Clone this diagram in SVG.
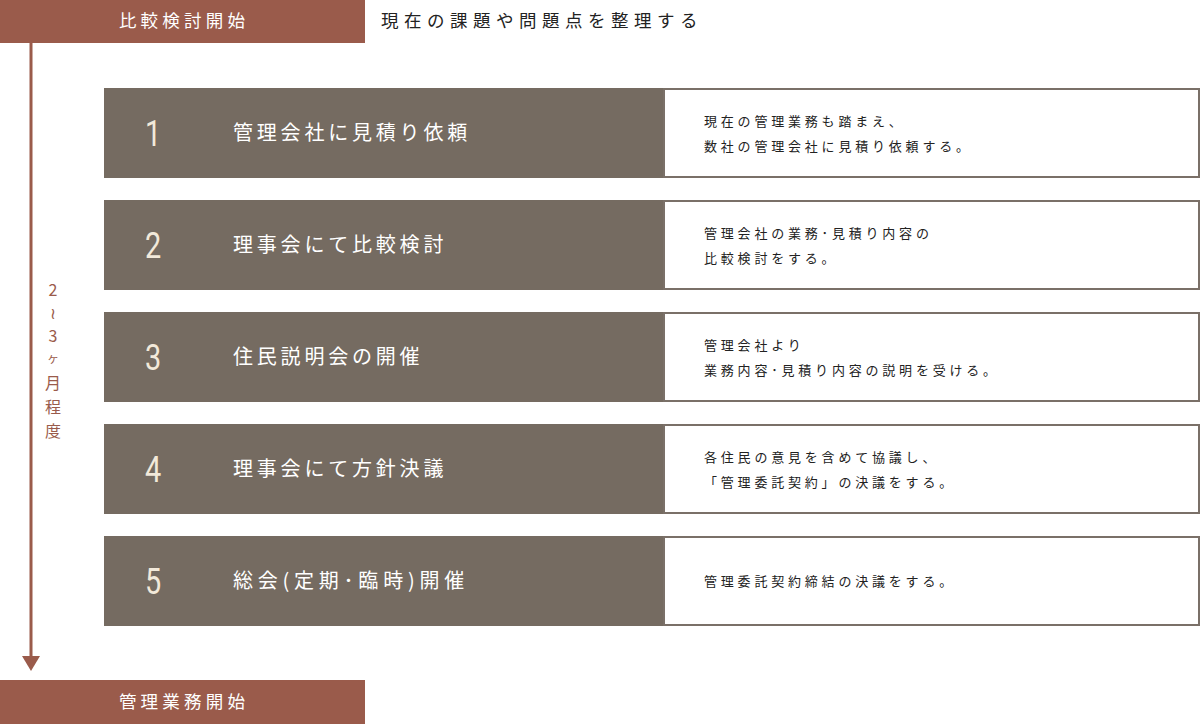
<svg xmlns="http://www.w3.org/2000/svg" width="1200" height="724" viewBox="0 0 1200 724">
<style>
.bar{fill:#9a5b4b}
.bartxt{font-family:"Noto Sans CJK JP","Noto Sans",sans-serif;font-size:17.5px;fill:#ffffff;letter-spacing:4.2px;text-anchor:middle}
.lead{font-family:"Noto Sans CJK JP","Noto Sans",sans-serif;font-size:17.5px;fill:#222222;letter-spacing:5.5px}
.step{fill:#756b61}
.desc{fill:#ffffff;stroke:#7a7068;stroke-width:2}
.num{font-family:Roboto,"Noto Sans",sans-serif;font-weight:400;font-size:37px;fill:#f2e9da;text-anchor:middle}
.title{font-family:"Noto Sans CJK JP","Noto Sans",sans-serif;font-size:20px;fill:#ffffff;letter-spacing:3.8px}
.note{font-family:"Noto Sans CJK JP","Noto Sans",sans-serif;font-size:13px;fill:#222222;letter-spacing:3.8px}
.vert{font-family:"Noto Sans CJK JP","Noto Sans",sans-serif;font-size:16px;fill:#9a5b4b;text-anchor:middle}
</style>
<rect width="1200" height="724" fill="#ffffff"/>
<g id="start">
<rect class="bar" x="0" y="0" width="365" height="43"/>
<text class="bartxt" x="184" y="27">比較検討開始</text>
</g>
<g id="lead">
<text class="lead" x="381" y="27">現在の課題や問題点を整理する</text>
</g>
<g id="connectors">
<line x1="31" y1="43" x2="31" y2="657" stroke="#9a5b4b" stroke-width="3"/>
<path d="M22,656 L40,656 L31,671 Z" fill="#9a5b4b"/>
</g>
<g id="duration">
<text class="vert" x="53" y="296">2</text>
<text class="vert" x="53" y="319">≀</text>
<text class="vert" x="53" y="342">3</text>
<text class="vert" x="53" y="363" style="font-size:12px">ヶ</text>
<text class="vert" x="53" y="389">月</text>
<text class="vert" x="53" y="413">程</text>
<text class="vert" x="53" y="437">度</text>
</g>
<g id="step1">
<rect class="step" x="104" y="88" width="559" height="90"/>
<rect class="desc" x="664" y="89" width="535" height="88"/>
<text class="num" transform="translate(153,146) scale(0.78,1)">1</text>
<text class="title" x="233" y="140">管理会社に見積り依頼</text>
<text class="note" x="704" y="126">現在の管理業務も踏まえ、</text>
<text class="note" x="704" y="151">数社の管理会社に見積り依頼する。</text>
</g>
<g id="step2">
<rect class="step" x="104" y="200" width="559" height="90"/>
<rect class="desc" x="664" y="201" width="535" height="88"/>
<text class="num" transform="translate(153,258) scale(0.78,1)">2</text>
<text class="title" x="233" y="252">理事会にて比較検討</text>
<text class="note" x="704" y="238">管理会社の業務･見積り内容の</text>
<text class="note" x="704" y="263">比較検討をする。</text>
</g>
<g id="step3">
<rect class="step" x="104" y="312" width="559" height="90"/>
<rect class="desc" x="664" y="313" width="535" height="88"/>
<text class="num" transform="translate(153,370) scale(0.78,1)">3</text>
<text class="title" x="233" y="364">住民説明会の開催</text>
<text class="note" x="704" y="350">管理会社より</text>
<text class="note" x="704" y="375">業務内容･見積り内容の説明を受ける。</text>
</g>
<g id="step4">
<rect class="step" x="104" y="424" width="559" height="90"/>
<rect class="desc" x="664" y="425" width="535" height="88"/>
<text class="num" transform="translate(153,482) scale(0.78,1)">4</text>
<text class="title" x="233" y="476">理事会にて方針決議</text>
<text class="note" x="704" y="462">各住民の意見を含めて協議し、</text>
<text class="note" x="704" y="487">「管理委託契約」の決議をする。</text>
</g>
<g id="step5">
<rect class="step" x="104" y="536" width="559" height="90"/>
<rect class="desc" x="664" y="537" width="535" height="88"/>
<text class="num" transform="translate(153,594) scale(0.78,1)">5</text>
<text class="title" x="233" y="588" textLength="235" lengthAdjust="spacing">総会(定期･臨時)開催</text>
<text class="note" x="704" y="586">管理委託契約締結の決議をする。</text>
</g>
<g id="end">
<rect class="bar" x="0" y="680" width="365" height="44"/>
<text class="bartxt" x="184" y="708">管理業務開始</text>
</g>
</svg>
